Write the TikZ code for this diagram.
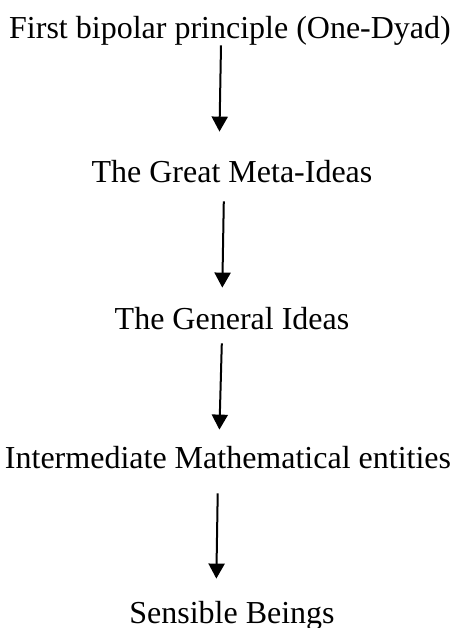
\documentclass[tikz,border=0pt]{standalone}
\usepackage{fontspec}
\setmainfont{Liberation Serif}
\usepackage{tikz}
\usetikzlibrary{arrows.meta}
\tikzset{
  stage/.style={inner sep=0pt, anchor=base, text height=11.5pt, text depth=3.5pt,
                font=\fontsize{16pt}{19pt}\selectfont},
  arr/.style={-{Triangle[length=7.5pt,width=8pt]}, line width=1pt, draw=black},
}

\begin{document}
\begin{tikzpicture}[x=1pt,y=1pt]
    \useasboundingbox (0,0) rectangle (228.5,-314);
    \node[stage] (a) at (115,-19) {First bipolar principle (One-Dyad)};
    \node[stage] (b) at (116,-91) {The Great Meta-Ideas};
    \node[stage] (c) at (116,-164.5) {The General Ideas};
    \node[stage] (d) at (114,-234) {Intermediate Mathematical entities};
    \node[stage] (e) at (116,-311.5) {Sensible Beings};
    \draw[arr, shorten >=13.5pt] ([xshift=-4.5pt]a.south) -- ([xshift=-6.5pt]b.north);
    \draw[arr, shorten <=6pt, shorten >=9pt] ([xshift=-4pt]b.south) -- ([xshift=-5pt]c.north);
    \draw[arr, shorten <=3.5pt, shorten >=7.5pt] ([xshift=-5pt]c.south) -- ([xshift=-4.5pt]d.north);
    \draw[arr, shorten <=9pt, shorten >=10.5pt] ([xshift=-5pt]d.south) -- ([xshift=-8pt]e.north);
  \end{tikzpicture}
\end{document}
